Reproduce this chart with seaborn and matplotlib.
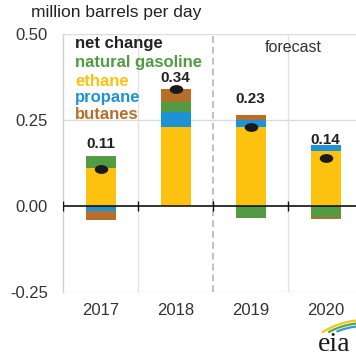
import numpy as np
import pandas as pd
import matplotlib
matplotlib.use("Agg")
import matplotlib.pyplot as plt
from matplotlib.path import Path
import seaborn as sns

# Year-over-year change in NGL production by component (million b/d)
years = ["2017", "2018", "2019", "2020"]
ethane = [0.110, 0.230, 0.230, 0.160]
propane = [-0.014, 0.044, 0.019, 0.017]
natural_gasoline = [0.036, 0.029, -0.034, -0.031]
butanes = [-0.027, 0.036, 0.015, -0.006]
net_change = [0.107, 0.339, 0.230, 0.140]

component_names = ["ethane", "propane", "natural gasoline", "butanes"]
component_values = [ethane, propane, natural_gasoline, butanes]
component_colors = {
    "natural gasoline": "#529b43",
    "ethane": "#fdc20f",
    "propane": "#1d93d5",
    "butanes": "#b66f2b",
}
legend_order = ["natural gasoline", "ethane", "propane", "butanes"]

sns.set_theme(style="white")
plt.rcParams["font.family"] = ["Liberation Sans", "DejaVu Sans"]

W, H = 356, 358
fig = plt.figure(figsize=(W / 100, H / 100), dpi=100)
ax = fig.add_axes([63 / W, 66 / H, 300 / W, 258 / H])

# Stacked bars: positive parts stack upward, negative parts downward,
# both in the order ethane -> propane -> natural gasoline -> butanes.
vals = np.array(component_values)
pos_cum = np.cumsum(np.clip(vals, 0, None), axis=0)
neg_cum = np.cumsum(np.clip(vals, None, 0), axis=0)

for cum in (pos_cum, neg_cum):
    for k in range(len(component_names) - 1, -1, -1):
        layer = pd.DataFrame({"year": years, "value": cum[k]})
        sns.barplot(data=layer, x="year", y="value", order=years,
                    color=component_colors[component_names[k]],
                    saturation=1, width=0.4, linewidth=0, ax=ax,
                    errorbar=None, zorder=3)

# Net change markers (flattened ellipse)
circle = Path.unit_circle()
ellipse = Path(circle.vertices * np.array([1.0, 0.65]), circle.codes)
sns.scatterplot(x=years, y=net_change, marker=ellipse, s=95,
                color="#1a1a1a", linewidth=0, ax=ax, zorder=5, legend=False)

# Net change labels above each positive stack
label_pad = [8, 7, 12, 1]
for i, (top, net) in enumerate(zip(pos_cum[-1], net_change)):
    ax.annotate(f"{net:.2f}", xy=(i, top), xytext=(0, label_pad[i]),
                textcoords="offset pixels", ha="center", va="baseline",
                fontsize=11, fontweight="bold", color="#222222", zorder=6)

ax.set_xlim(-0.5, 3.5)
ax.set_ylim(-0.25, 0.50)
ax.set_xlabel("")
ax.set_ylabel("")

# Grid
for y in (-0.25, 0.25, 0.50):
    ax.axhline(y, color="#dcdcdc", lw=1, zorder=1)
bounds = np.arange(len(years) - 1) + 0.5
for b in bounds:
    if b == 1.5:
        ax.axvline(b, color="#b5b5b5", lw=1.2, ls=(0, (4, 2.5)), zorder=1)
    else:
        ax.axvline(b, color="#e2e2e2", lw=1, zorder=1)
ax.axhline(0, color="#111111", lw=1.2, zorder=4)
ax.vlines(np.concatenate([[-0.5], bounds]), -0.014, 0.014,
          color="#111111", lw=1, zorder=4)

for s in ("top", "right", "bottom"):
    ax.spines[s].set_visible(False)
ax.spines["left"].set_color("#d0d0d0")
ax.spines["left"].set_linewidth(1)

ax.set_yticks([-0.25, 0.0, 0.25, 0.50])
ax.set_yticklabels(["-0.25", "0.00", "0.25", "0.50"])
ax.tick_params(axis="y", length=0, pad=11, labelsize=12, labelcolor="#333333")
ax.tick_params(axis="x", length=0, pad=8, labelsize=12, labelcolor="#333333")

# Inline legend
ax.text(0.04, (292 - 48) / 258, "net change", transform=ax.transAxes,
        fontsize=12, fontweight="bold", color="#222222", va="baseline")
legend_base = [67, 85.5, 102, 119]
for name, yb in zip(legend_order, legend_base):
    ax.text(0.04, (292 - yb) / 258, name, transform=ax.transAxes,
            fontsize=12, fontweight="bold", color=component_colors[name],
            va="baseline")

ax.text(2.567, 0.462, "forecast", ha="center", va="center",
        fontsize=11.5, color="#333333")

fig.text(31 / W, 1 - 13 / H, "million barrels per day", fontsize=12.5,
         color="#222222", va="center", ha="left")

# Source logo
fig.text(318 / W, 1 - 357 / H, "eia", fontsize=20,
         family=["Liberation Serif", "DejaVu Serif"], color="#1a1a1a",
         va="bottom", ha="left")
logo = fig.add_axes([0, 0, 1, 1], zorder=10)
logo.set_xlim(0, W)
logo.set_ylim(H, 0)
logo.axis("off")
cx, cy = 365, 400
for r, t0, t1, col in [(80, 122, 88, "#f5c518"), (77, 118, 80, "#56a846"),
                       (74, 112, 80, "#2f9ad6")]:
    t = np.radians(np.linspace(t0, t1, 60))
    logo.plot(cx + r * np.cos(t), cy - r * np.sin(t), color=col, lw=1.6,
              solid_capstyle="round")

fig.savefig("out.png", dpi=100)
